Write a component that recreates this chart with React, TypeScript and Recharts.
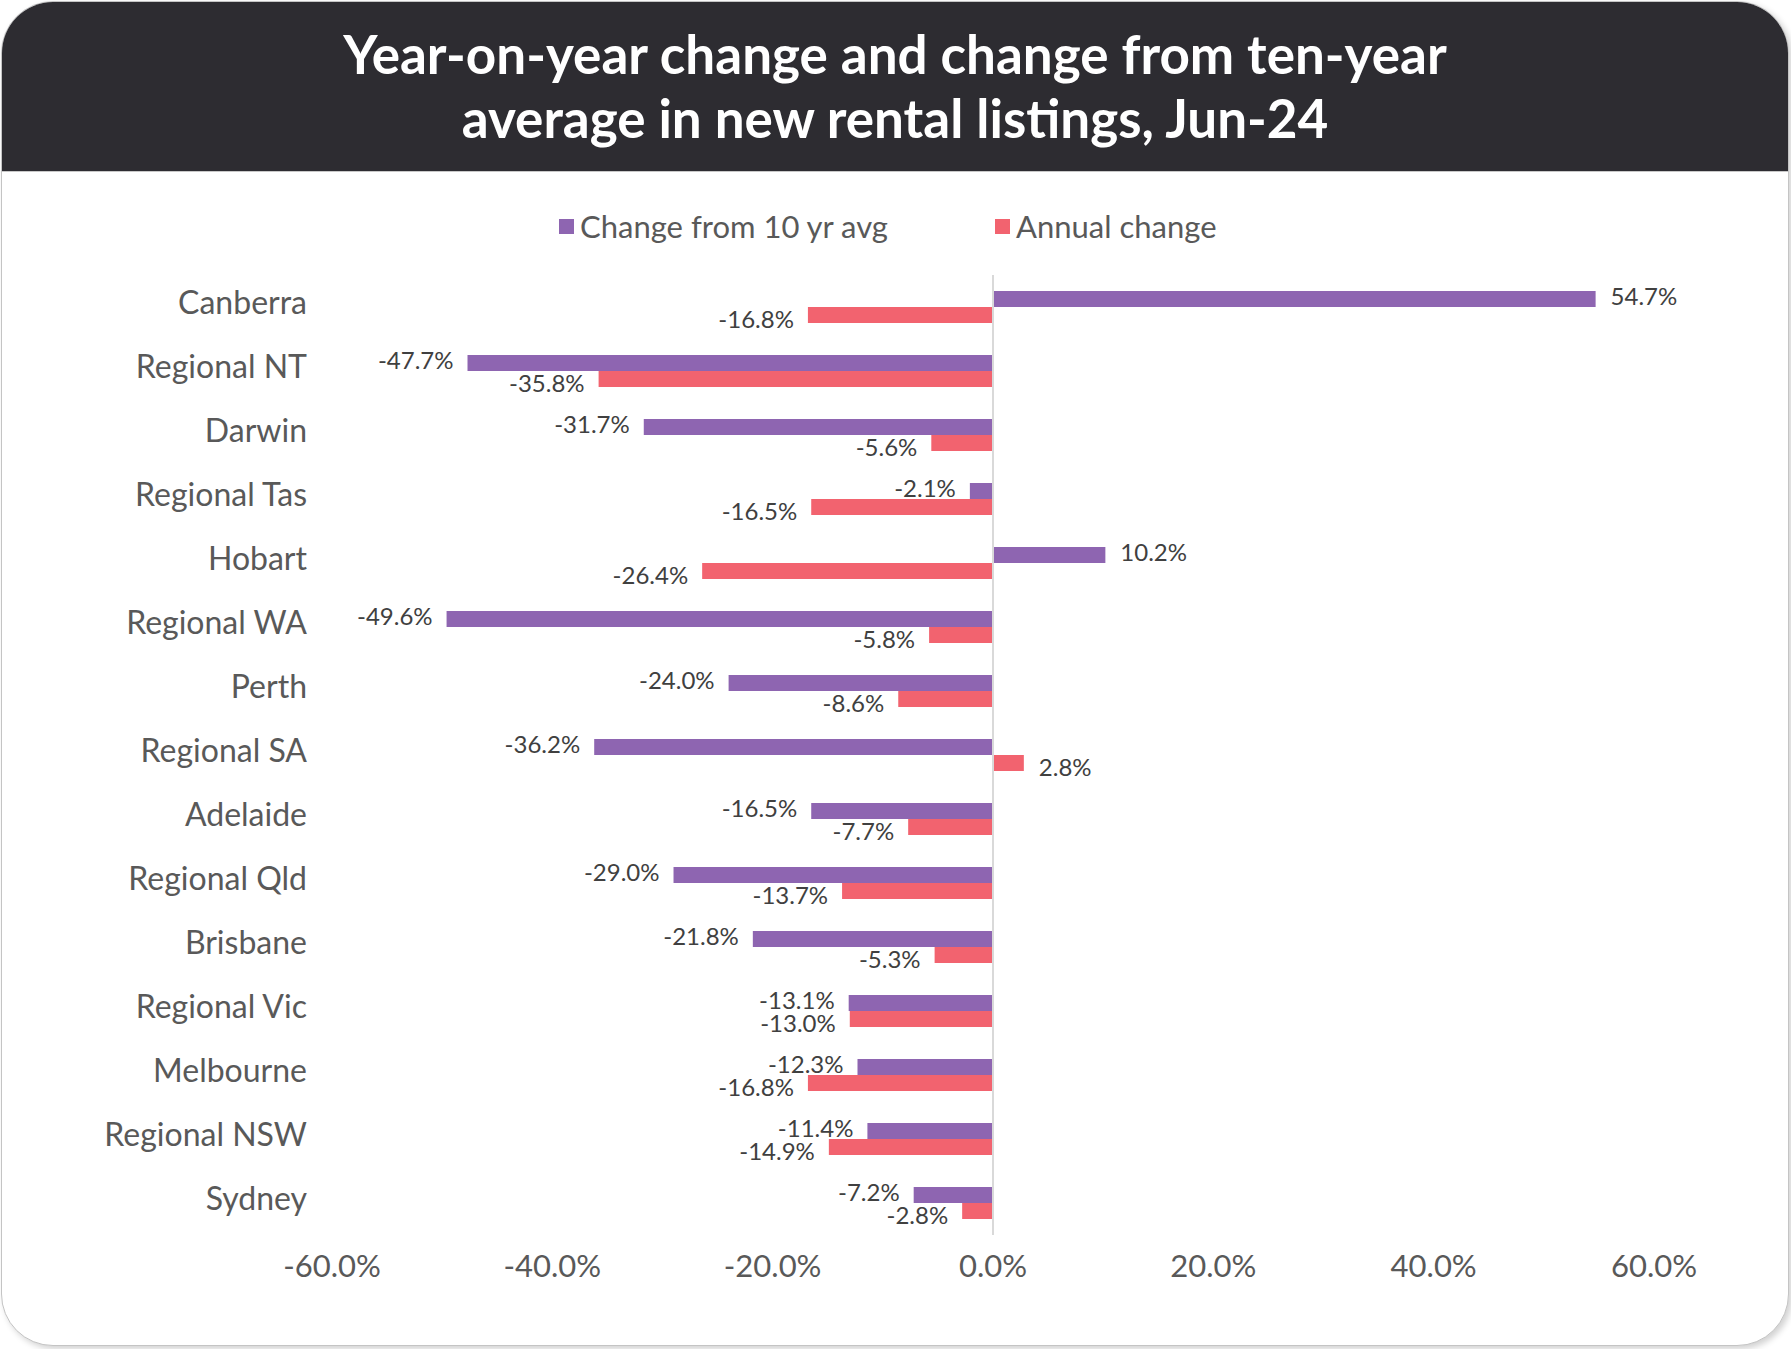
import React from "react";
import {
  BarChart,
  Bar,
  XAxis,
  YAxis,
  ReferenceLine,
  LabelList,
} from "recharts";

const categories = [
  "Canberra",
  "Regional NT",
  "Darwin",
  "Regional Tas",
  "Hobart",
  "Regional WA",
  "Perth",
  "Regional SA",
  "Adelaide",
  "Regional Qld",
  "Brisbane",
  "Regional Vic",
  "Melbourne",
  "Regional NSW",
  "Sydney",
];

const tenYearAvgChange = [
  54.7, -47.7, -31.7, -2.1, 10.2, -49.6, -24.0, -36.2, -16.5, -29.0, -21.8, -13.1, -12.3, -11.4, -7.2,
];

const annualChange = [
  -16.8, -35.8, -5.6, -16.5, -26.4, -5.8, -8.6, 2.8, -7.7, -13.7, -5.3, -13.0, -16.8, -14.9, -2.8,
];

const xTicks = [-60, -40, -20, 0, 20, 40, 60];

const seriesNames = ["Change from 10 yr avg", "Annual change"];
const PURPLE = "#8e65b1";
const RED = "#f2636f";

const data = categories.map((name, i) => ({
  name,
  avg: tenYearAvgChange[i],
  annual: annualChange[i],
}));

const FONT = "Lato, 'Noto Sans', sans-serif";

function makeLabel(dy: number) {
  return (props: any) => {
    const { x, y, width, height, value } = props;
    const left = Math.min(x, x + width);
    const right = Math.max(x, x + width);
    const neg = value < 0;
    return (
      <text
        x={neg ? left - 14 : right + 15}
        y={y + height / 2 + dy}
        textAnchor={neg ? "end" : "start"}
        dominantBaseline="central"
        fontSize={24}
        fontFamily={FONT}
        fill="#404040"
      >
        {`${value.toFixed(1)}%`}
      </text>
    );
  };
}

export default function App() {
  return (
    <div
      style={{
        position: "absolute",
        left: 0,
        top: 0,
        width: 1791,
        height: 1349,
        background: "#ffffff",
        fontFamily: FONT,
      }}
    >
      <div
        style={{
          position: "absolute",
          left: 1,
          top: 1,
          width: 1786,
          height: 1343,
          borderRadius: 52,
          border: "1px solid #c4c4c4",
          boxShadow: "3px 3px 6px rgba(0,0,0,0.18)",
          overflow: "hidden",
          background: "#fff",
        }}
      >
        <div
          style={{
            height: 170,
            background: "#2d2c31",
            borderBottom: "1px solid #c8c8c8",
            color: "#fff",
            fontSize: 53,
            fontWeight: 700,
            lineHeight: "64px",
            textAlign: "center",
            paddingTop: 20,
            boxSizing: "border-box",
          }}
        >
          Year-on-year change and change from ten-year
          <br />
          average in new rental listings, Jun-24
        </div>

        <div
          style={{
            position: "absolute",
            top: 206,
            left: 0,
            width: "100%",
            height: 36,
            fontSize: 31,
            color: "#595959",
          }}
        >
          {seriesNames.map((s, i) => (
            <div
              key={s}
              style={{
                position: "absolute",
                left: i === 0 ? 557 : 993,
                display: "flex",
                alignItems: "center",
                height: 36,
              }}
            >
              <span
                style={{
                  display: "inline-block",
                  width: 15,
                  height: 15,
                  background: i === 0 ? PURPLE : RED,
                  marginRight: 6,
                }}
              />
              {s}
            </div>
          ))}
        </div>

        <div style={{ position: "absolute", left: 0, top: 0 }}>
          <BarChart
            width={1786}
            height={1343}
            data={data}
            layout="vertical"
            margin={{ top: 273, right: 134, left: 0, bottom: 50 }}
            barCategoryGap="25%"
            barGap={0}
          >
            <XAxis
              type="number"
              domain={[-60, 60]}
              ticks={xTicks}
              tickFormatter={(v) => `${v.toFixed(1)}%`}
              tick={{ fill: "#595959", fontSize: 31, fontFamily: FONT }}
              axisLine={false}
              tickLine={false}
              tickSize={0}
              tickMargin={20}
              height={60}
            />
            <YAxis
              type="category"
              dataKey="name"
              width={330}
              tick={{ fill: "#595959", fontSize: 32, fontFamily: FONT, dy: -4 }}
              axisLine={false}
              tickLine={false}
              tickSize={0}
              tickMargin={25}
              interval={0}
            />
            <ReferenceLine x={0} stroke="#d9d9d9" strokeWidth={2} />
            <Bar dataKey="avg" name={seriesNames[0]} fill={PURPLE} isAnimationActive={false}>
              <LabelList dataKey="avg" content={makeLabel(-4)} />
            </Bar>
            <Bar dataKey="annual" name={seriesNames[1]} fill={RED} isAnimationActive={false}>
              <LabelList dataKey="annual" content={makeLabel(3)} />
            </Bar>
          </BarChart>
        </div>
      </div>
    </div>
  );
}
